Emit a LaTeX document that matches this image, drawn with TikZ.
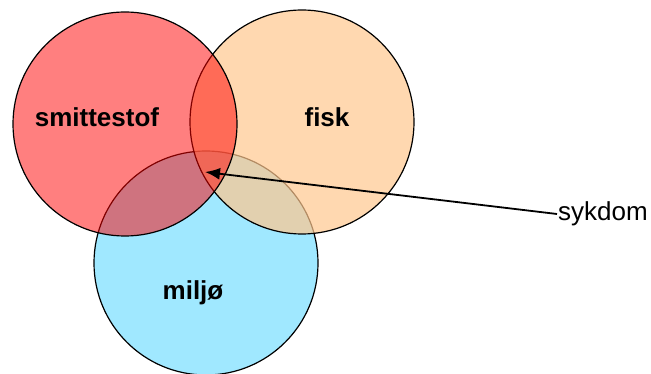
\documentclass[tikz,border=0pt]{standalone}
\usepackage{fontspec}
\setmainfont{Liberation Sans}
\usetikzlibrary{arrows.meta}
\definecolor{Smitte}{HTML}{FF0000}
\definecolor{Fisk}{HTML}{FFC78E}
\definecolor{Miljo}{HTML}{A0E8FF}
\tikzset{
    setnode/.style={circle, draw=black, line width=1.2pt, minimum size=224pt, inner sep=0pt},
    setlabel/.style={font=\bfseries\fontsize{26}{30}\selectfont, text=black},
    pointer/.style={-{Latex[length=15pt, width=12pt]}, line width=1.8pt, color=black},
}
\begin{document}
\begin{tikzpicture}[x=1pt, y=-1pt]
    \useasboundingbox (0,0) rectangle (651,374);

    % Sets
    \node[setnode, fill=Miljo] (miljo) at (206,263) {};
    \node[setnode, fill=Fisk, fill opacity=0.7] (fisk) at (302,122) {};
    \node[setnode, fill=Smitte, fill opacity=0.5] (smitte) at (125,124) {};

    % Labels
    \node[setlabel] (smittetxt) at (97,117) {smittestof};
    \node[setlabel] (fisktxt) at (327,117) {fisk};
    \node[setlabel] (miljotxt) at (193,293) {miljø};

    % Pointer
    \node[font=\fontsize{26}{30}\selectfont, anchor=west, inner sep=1pt] (sykdom) at (557,214) {sykdom};
    \coordinate (kjerne) at (205,172);
    \draw[pointer] (sykdom.west) -- (kjerne);
\end{tikzpicture}
\end{document}
